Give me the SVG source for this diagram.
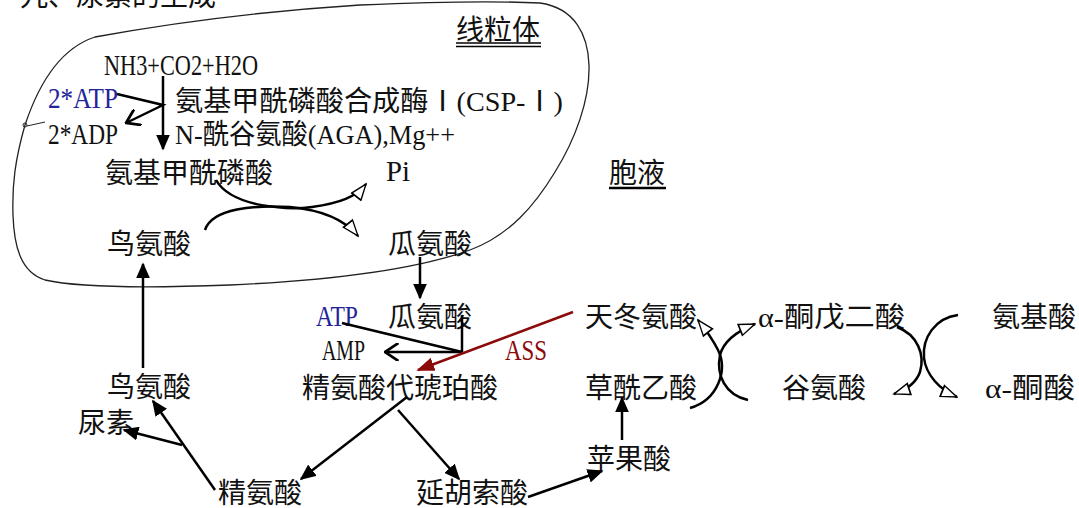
<svg xmlns="http://www.w3.org/2000/svg" width="1079" height="508" viewBox="0 0 1079 508">
<style>
text{font-family:"Liberation Serif","Noto Sans CJK SC",serif;font-size:28px;fill:#111}
.lat{font-size:30px}
.blue{fill:#23239a}
.red{fill:#8b0a0a}
.ln{fill:none;stroke:#000;stroke-width:2.5}
.bd{fill:none;stroke:#222;stroke-width:1.3}
</style>
<defs>
<marker id="fa" viewBox="0 0 10 10" preserveAspectRatio="none" refX="9" refY="5" markerUnits="userSpaceOnUse" markerWidth="16" markerHeight="14" orient="auto"><path d="M0,0 L10,5 L0,10 z" fill="#000"/></marker>
<marker id="fr" viewBox="0 0 10 10" preserveAspectRatio="none" refX="9" refY="5" markerUnits="userSpaceOnUse" markerWidth="18" markerHeight="14" orient="auto"><path d="M0,0 L10,5 L0,10 z" fill="#8b0a0a"/></marker>
<marker id="ov" viewBox="0 0 10 10" preserveAspectRatio="none" refX="9" refY="5" markerUnits="userSpaceOnUse" markerWidth="15" markerHeight="18" orient="auto"><path d="M0,0 L9,5 L0,10" fill="none" stroke="#000" stroke-width="1.6"/></marker>
<marker id="ht" viewBox="-1 -1 12 12" preserveAspectRatio="none" refX="10" refY="5" markerUnits="userSpaceOnUse" markerWidth="19" markerHeight="14" orient="auto"><path d="M0,0 L10,5 L0,10 z" fill="#fff" stroke="#000" stroke-width="1.1"/></marker>
</defs>

<g id="boundary">
<path class="bd" d="M25,125 C35,95 55,50 95,37 C160,25 250,12 360,5 C430,2 500,1 540,3 C575,8 588,35 589,65 C590,100 575,140 555,172 C535,205 510,235 470,250 C420,268 340,280 230,285 C150,288 80,288 45,280 C20,272 14,245 13,215 C12,185 15,160 25,125 Z"/>
<circle cx="25" cy="125" r="2" fill="none" stroke="#222" stroke-width="1"/>
<line x1="27" y1="126" x2="45" y2="122" stroke="#222" stroke-width="1"/>
</g>

<g id="labels">
<text id="title" x="20" y="6">九、尿素的生成</text>
<g id="mito-label"><text x="456" y="40">线粒体</text>
<line x1="456" y1="43" x2="541" y2="43" stroke="#000" stroke-width="1.6"/>
<line x1="456" y1="46.5" x2="541" y2="46.5" stroke="#000" stroke-width="1.6"/></g>
<g id="cyto-label"><text x="609" y="183">胞液</text>
<line x1="609" y1="188" x2="666" y2="188" stroke="#000" stroke-width="2.6"/></g>
</g>

<g id="nodes">
<g id="n-nh3"><text class="lat" x="104" y="75" textLength="154" lengthAdjust="spacingAndGlyphs">NH3+CO2+H2O</text></g>
<g id="n-2atp"><text class="lat blue" x="48" y="108" textLength="70" lengthAdjust="spacingAndGlyphs">2*ATP</text></g>
<g id="n-cps"><text x="175" y="111" textLength="388" lengthAdjust="spacingAndGlyphs">氨基甲酰磷酸合成酶Ⅰ(CSP-Ⅰ)</text></g>
<g id="n-2adp"><text class="lat" x="48" y="144" textLength="70" lengthAdjust="spacingAndGlyphs">2*ADP</text></g>
<g id="n-aga"><text x="175" y="144" textLength="280" lengthAdjust="spacingAndGlyphs">N-酰谷氨酸(AGA),Mg++</text></g>
<g id="n-cp"><text x="105" y="183">氨基甲酰磷酸</text></g>
<g id="n-pi"><text class="lat" x="386" y="181" textLength="24" lengthAdjust="spacingAndGlyphs">Pi</text></g>
<g id="n-orn1"><text x="107" y="254">鸟氨酸</text></g>
<g id="n-cit1"><text x="388" y="254">瓜氨酸</text></g>
<g id="n-atp"><text class="lat blue" x="316" y="326" textLength="42" lengthAdjust="spacingAndGlyphs">ATP</text></g>
<g id="n-cit2"><text x="388" y="327">瓜氨酸</text></g>
<g id="n-asp"><text x="585" y="327">天冬氨酸</text></g>
<g id="n-akg"><text x="758" y="327" textLength="147" lengthAdjust="spacingAndGlyphs">α-酮戊二酸</text></g>
<g id="n-aa"><text x="992" y="327">氨基酸</text></g>
<g id="n-amp"><text class="lat" x="322" y="360" textLength="43" lengthAdjust="spacingAndGlyphs">AMP</text></g>
<g id="n-ass"><text class="lat red" x="505" y="360" textLength="42" lengthAdjust="spacingAndGlyphs">ASS</text></g>
<g id="n-orn2"><text x="107" y="397">鸟氨酸</text></g>
<g id="n-as"><text x="302" y="398">精氨酸代琥珀酸</text></g>
<g id="n-oaa"><text x="585" y="398">草酰乙酸</text></g>
<g id="n-glu"><text x="782" y="398">谷氨酸</text></g>
<g id="n-aka"><text x="985" y="398" textLength="90" lengthAdjust="spacingAndGlyphs">α-酮酸</text></g>
<g id="n-urea"><text x="78" y="433">尿素</text></g>
<g id="n-arg"><text x="218" y="503">精氨酸</text></g>
<g id="n-fum"><text x="416" y="503">延胡索酸</text></g>
<g id="n-mal"><text x="587" y="469">苹果酸</text></g>
</g>

<g id="connectors">
<line class="ln" x1="163" y1="76" x2="163" y2="149" marker-end="url(#fa)"/>
<polyline class="ln" points="117,94 163,105 126,123" marker-end="url(#ov)"/>
<path class="ln" d="M216,180 C232,208 290,210 312,207 C340,203 356,197 366,184" marker-end="url(#ht)"/>
<path class="ln" d="M205,230 C212,208 255,205 290,207 C322,210 345,220 358,236" marker-end="url(#ht)"/>
<line class="ln" x1="420" y1="257" x2="420" y2="298" marker-end="url(#fa)"/>
<line class="ln" x1="143" y1="368" x2="143" y2="264" marker-end="url(#fa)"/>
<line class="ln" x1="342" y1="323" x2="462" y2="352"/>
<line class="ln" x1="462" y1="315" x2="462" y2="352"/>
<line class="ln" x1="462" y1="352" x2="385" y2="352" marker-end="url(#ov)"/>
<line x1="573" y1="312" x2="418" y2="370" stroke="#8b0a0a" stroke-width="2.5" marker-end="url(#fr)"/>
<line class="ln" x1="407" y1="397" x2="301" y2="479" marker-end="url(#fa)"/>
<line class="ln" x1="398" y1="410" x2="459" y2="479" marker-end="url(#fa)"/>
<line class="ln" x1="215" y1="490" x2="153" y2="401" marker-end="url(#fa)"/>
<line class="ln" x1="182" y1="445" x2="124" y2="430" marker-end="url(#fa)"/>
<line class="ln" x1="528" y1="497" x2="602" y2="471" marker-end="url(#fa)"/>
<line class="ln" x1="622" y1="440" x2="622" y2="398" marker-end="url(#fa)"/>
<path class="ln" d="M690,408 C718,400 728,370 718,350 C712,338 706,330 698,320" marker-end="url(#ht)"/>
<path class="ln" d="M748,400 C725,395 716,375 720,355 C724,340 740,330 755,324" marker-end="url(#ht)"/>
<path class="ln" d="M897,327 C918,335 925,355 920,372 C916,383 906,390 894,394" marker-end="url(#ht)"/>
<path class="ln" d="M958,315 C935,318 922,338 924,358 C926,375 940,390 957,397" marker-end="url(#ht)"/>
</g>
</svg>
